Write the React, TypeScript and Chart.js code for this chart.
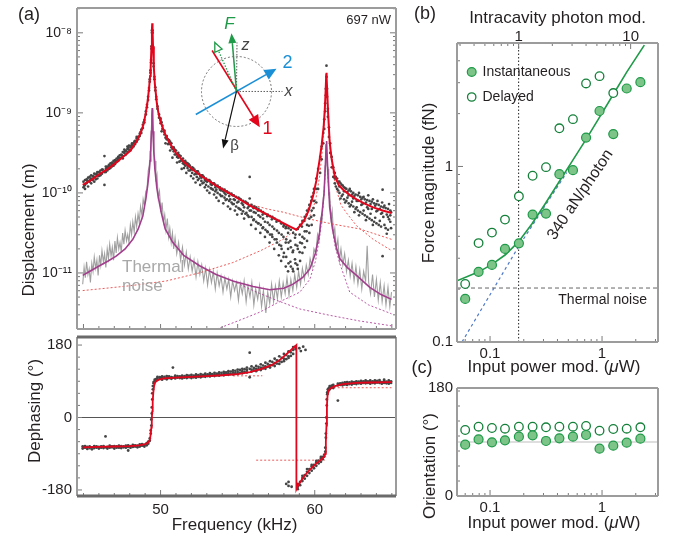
import React, { useEffect, useRef } from "react";
import { Chart, registerables } from "chart.js";
Chart.register(...registerables);

const FONT = '"Liberation Sans", Arial, Helvetica, sans-serif';
Chart.defaults.font.family = FONT;
Chart.defaults.color = "#231f20";

// ================= Panel (a) top : displacement (log10 of metres) =================
const freqRange = [44.58, 65.27]; // kHz
const dispLogRange = [-11.7, -7.69];
const dispTickValues = [1e-11, 1e-10, 1e-9, 1e-8];

const dispTotalFit = [
  [44.95, -9.9], [45.5, -9.84], [46.0, -9.77], [46.5, -9.71], [47.0, -9.64], [47.5, -9.56], [48.0, -9.48],
  [48.4, -9.37], [48.7, -9.26], [48.9, -9.14], [49.05, -8.99], [49.17, -8.84], [49.26, -8.68], [49.32, -8.54],
  [49.36, -8.42], [49.41, -8.17], [49.44, -7.96], [49.46, -7.88], [49.48, -7.96], [49.51, -8.17], [49.56, -8.42],
  [49.63, -8.64], [49.76, -8.88], [49.85, -8.99], [50.0, -9.11], [50.26, -9.25], [50.6, -9.38], [51.0, -9.5],
  [51.5, -9.61], [52.1, -9.71], [52.8, -9.81], [53.6, -9.91], [54.6, -10.02], [55.8, -10.16], [57.0, -10.28],
  [57.9, -10.37], [58.5, -10.43], [58.81, -10.46], [59.1, -10.4], [59.35, -10.33], [59.6, -10.22], [59.89, -10.04],
  [60.1, -9.85], [60.32, -9.58], [60.45, -9.4], [60.58, -9.17], [60.66, -8.93], [60.71, -8.71], [60.74, -8.55],
  [60.76, -8.5], [60.78, -8.56], [60.81, -8.74], [60.86, -8.98], [60.97, -9.37], [61.1, -9.58], [61.3, -9.79],
  [61.55, -9.9], [61.84, -9.96], [62.3, -10.03], [62.71, -10.08], [63.2, -10.13], [63.79, -10.18], [64.4, -10.22],
  [64.98, -10.25],
];
const dispMode1Tail = [
  [55.8, -10.14], [56.9, -10.2], [57.94, -10.24], [59.5, -10.32], [61.19, -10.39], [62.92, -10.45], [64.98, -10.58],
];
const dispMode2Fit = [
  [44.95, -11.22], [46.5, -11.19], [48.0, -11.16], [50.37, -11.1], [52.5, -11.0], [54.69, -10.87], [56.5, -10.72],
  [57.94, -10.58], [59.0, -10.43], [59.68, -10.29], [60.05, -10.1], [60.32, -9.79], [60.5, -9.45], [60.65, -9.0],
  [60.76, -8.6], [60.87, -9.0], [61.0, -9.45], [61.2, -9.75], [61.41, -9.96], [61.7, -10.15], [62.06, -10.25],
  [62.71, -10.41], [63.79, -10.58], [64.98, -10.72],
];
const thermalFit = [
  [44.95, -11.03], [45.5, -10.97], [46.04, -10.91], [46.6, -10.85], [47.12, -10.79], [47.7, -10.7], [48.2, -10.58],
  [48.55, -10.45], [48.85, -10.29], [49.05, -10.07], [49.17, -9.9], [49.26, -9.74], [49.32, -9.6], [49.36, -9.48],
  [49.41, -9.23], [49.44, -9.02], [49.46, -8.94], [49.48, -9.02], [49.51, -9.23], [49.56, -9.48], [49.63, -9.7],
  [49.76, -9.94], [49.85, -10.05], [50.05, -10.25], [50.3, -10.45], [50.8, -10.62], [51.5, -10.78], [52.53, -10.91],
  [53.6, -11.02], [54.69, -11.1], [56.0, -11.17], [57.08, -11.21], [58.0, -11.19], [58.59, -11.14], [59.2, -11.06],
  [59.68, -10.95], [60.05, -10.75], [60.32, -10.49], [60.5, -10.2], [60.6, -10.02], [60.66, -9.78], [60.71, -9.56],
  [60.74, -9.4], [60.76, -9.35], [60.78, -9.4], [60.81, -9.56], [60.86, -9.78], [60.97, -10.18], [61.15, -10.45],
  [61.4, -10.68], [61.62, -10.82], [62.1, -10.93], [62.71, -11.03], [63.57, -11.18], [64.3, -11.27], [64.98, -11.33],
];
const thermalMode1Tail = [
  [54.7, -11.1], [56.0, -11.22], [57.5, -11.34], [59.03, -11.45], [61.0, -11.53], [62.92, -11.6], [64.98, -11.66],
];
const thermalMode2 = [
  [53.4, -11.72], [55.0, -11.6], [56.43, -11.49], [57.5, -11.38], [59.03, -11.24], [59.68, -11.08], [60.05, -10.85],
  [60.32, -10.55], [60.5, -10.25], [60.62, -9.95], [60.7, -9.65], [60.76, -9.42], [60.82, -9.65], [60.9, -9.95],
  [61.05, -10.3], [61.3, -10.65], [61.62, -10.88], [62.27, -11.24], [63.5, -11.4], [64.98, -11.51],
];
const thermalNoise = [
  [44.95, -11.14], [45.04, -10.93], [45.12, -11.06], [45.2, -10.86], [45.29, -11.02], [45.37, -10.95], [45.45, -11.12],
  [45.54, -10.88], [45.62, -10.98], [45.7, -10.8], [45.79, -10.94], [45.87, -10.84], [45.95, -11.03], [46.04, -10.78],
  [46.12, -10.9], [46.2, -10.72], [46.29, -10.86], [46.37, -10.76], [46.45, -10.93], [46.54, -10.7], [46.62, -10.82],
  [46.7, -10.64], [46.79, -10.79], [46.87, -10.68], [46.95, -10.84], [47.04, -10.6], [47.12, -10.75], [47.2, -10.56],
  [47.29, -10.7], [47.37, -10.62], [47.45, -10.74], [47.54, -10.5], [47.62, -10.64], [47.7, -10.47], [47.79, -10.6],
  [47.87, -10.52], [47.95, -10.62], [48.04, -10.4], [48.12, -10.52], [48.2, -10.36], [48.29, -10.49], [48.37, -10.3],
  [48.45, -10.42], [48.54, -10.26], [48.62, -10.37], [48.7, -10.17], [48.79, -10.28], [48.87, -10.08], [48.95, -10.16],
  [49.04, -9.98], [49.12, -9.95], [49.2, -9.72], [49.27, -9.66], [49.32, -9.48], [49.37, -9.35], [49.42, -9.12],
  [49.46, -8.96], [49.5, -9.15], [49.54, -9.36], [49.59, -9.52], [49.64, -9.6], [49.7, -9.86], [49.77, -9.78],
  [49.85, -10.06], [49.93, -9.98], [50.02, -10.24], [50.1, -10.12], [50.19, -10.36], [50.27, -10.27], [50.35, -10.46],
  [50.44, -10.32], [50.52, -10.55], [50.6, -10.44], [50.69, -10.62], [50.77, -10.5], [50.85, -10.7], [50.94, -10.56],
  [51.05, -10.76], [51.17, -10.62], [51.3, -10.84], [51.42, -10.68], [51.55, -10.9], [51.67, -10.74], [51.8, -10.95],
  [51.92, -10.8], [52.05, -10.98], [52.17, -10.84], [52.3, -11.05], [52.42, -10.86], [52.55, -11.02], [52.67, -10.9],
  [52.8, -11.1], [52.92, -10.94], [53.05, -11.15], [53.17, -10.96], [53.3, -11.12], [53.42, -10.98], [53.55, -11.2],
  [53.67, -11.0], [53.8, -11.16], [53.92, -11.04], [54.05, -11.24], [54.17, -11.06], [54.3, -11.2], [54.42, -11.08],
  [54.55, -11.3], [54.67, -11.1], [54.8, -11.22], [54.92, -11.12], [55.05, -11.34], [55.17, -11.13], [55.3, -11.26],
  [55.42, -11.1], [55.55, -11.36], [55.67, -11.16], [55.8, -11.3], [55.92, -11.12], [56.05, -11.4], [56.17, -11.2],
  [56.3, -11.33], [56.42, -11.16], [56.55, -11.42], [56.67, -11.22], [56.83, -11.5], [56.95, -11.24], [57.08, -11.38],
  [57.2, -11.14], [57.33, -11.36], [57.45, -11.16], [57.58, -11.32], [57.7, -11.1], [57.83, -11.3], [57.95, -11.12],
  [58.08, -11.26], [58.2, -11.06], [58.33, -11.28], [58.45, -11.08], [58.58, -11.22], [58.7, -11.02], [58.83, -11.18],
  [58.95, -10.98], [59.08, -11.14], [59.2, -10.94], [59.33, -11.08], [59.45, -10.9], [59.58, -11.02], [59.7, -10.82],
  [59.83, -10.92], [59.95, -10.7], [60.07, -10.76], [60.18, -10.52], [60.28, -10.6], [60.38, -10.32], [60.47, -10.36],
  [60.55, -10.06], [60.62, -9.98], [60.67, -9.66], [60.71, -9.5], [60.74, -9.4], [60.76, -9.36], [60.79, -9.52],
  [60.82, -9.72], [60.86, -9.7], [60.91, -10.02], [60.97, -10.0], [61.05, -10.32], [61.13, -10.22], [61.22, -10.52],
  [61.3, -10.44], [61.4, -10.7], [61.5, -10.58], [61.6, -10.84], [61.7, -10.7], [61.82, -10.9], [61.94, -10.76],
  [62.06, -10.98], [62.18, -10.84], [62.3, -11.04], [62.42, -10.88], [62.55, -11.1], [62.67, -10.92], [62.8, -11.14],
  [62.92, -10.96], [63.05, -11.2], [63.17, -10.98], [63.3, -11.1], [63.4, -10.66], [63.5, -11.12], [63.62, -11.26],
  [63.75, -11.02], [63.87, -11.3], [64.0, -11.08], [64.12, -11.34], [64.25, -11.12], [64.37, -11.36], [64.5, -11.16],
  [64.62, -11.4], [64.75, -11.18], [64.87, -11.42], [64.98, -11.24],
];
// measured displacement points: [frequency, log10 values...]
const dispDots = [
  [45.0, -9.86, -9.93], [45.1, -9.9, -9.84, -9.95], [45.2, -9.88, -9.83], [45.3, -9.85, -9.92, -9.81], [45.4, -9.86, -9.8],
  [45.5, -9.82, -9.88, -9.78], [45.6, -9.84, -9.79], [45.7, -9.8, -9.86, -9.76], [45.8, -9.83, -9.77], [45.9, -9.78, -9.82, -9.74],
  [46.0, -9.79, -9.74], [46.1, -9.72, -9.78, -9.75], [46.2, -9.76, -9.71], [46.36, -9.54, -9.74, -9.9], [46.45, -9.7, -9.74, -9.67],
  [46.55, -9.72, -9.67], [46.65, -9.65, -9.7, -9.68], [46.75, -9.69, -9.63], [46.85, -9.62, -9.67, -9.65], [46.95, -9.66, -9.6],
  [47.05, -9.59, -9.64, -9.62], [47.15, -9.61, -9.57], [47.25, -9.55, -9.6, -9.58], [47.35, -9.57, -9.53], [47.45, -9.52, -9.56],
  [47.55, -9.54, -9.49, -9.57], [47.65, -9.5, -9.46], [47.75, -9.47, -9.52], [47.85, -9.45, -9.49, -9.42], [47.95, -9.46, -9.41],
  [48.05, -9.43, -9.47], [48.15, -9.4, -9.44, -9.38], [48.25, -9.38, -9.42], [48.35, -9.35, -9.39], [48.45, -9.32, -9.36, -9.3],
  [48.55, -9.3, -9.33], [48.65, -9.26, -9.29], [48.75, -9.21, -9.25], [48.85, -9.15, -9.19], [48.95, -9.09, -9.12],
  [49.05, -8.98, -9.02], [49.12, -8.9, -8.93], [49.19, -8.8, -8.84], [49.25, -8.69, -8.72], [49.3, -8.58, -8.61],
  [49.34, -8.47, -8.5], [49.38, -8.34, -8.37], [49.41, -8.17, -8.2], [49.44, -7.97, -8.0], [49.48, -7.97, -8.0],
  [49.51, -8.17, -8.2], [49.55, -8.38, -8.42], [49.6, -8.55, -8.58], [49.66, -8.68, -8.72], [49.72, -8.8, -8.83],
  [49.8, -8.92, -8.95], [49.9, -9.02, -9.06], [50.0, -9.09, -9.13, -9.07], [50.12, -9.16, -9.2], [50.25, -9.22, -9.27, -9.24],
  [50.4, -9.29, -9.33], [50.55, -9.34, -9.39, -9.36], [50.7, -9.38, -9.43], [50.85, -9.43, -9.48, -9.45], [51.0, -9.47, -9.52],
  [51.15, -9.5, -9.56, -9.53], [51.3, -9.54, -9.6], [51.45, -9.57, -9.63, -9.6], [51.6, -9.6, -9.66], [51.75, -9.63, -9.69, -9.66],
  [51.9, -9.66, -9.72], [52.05, -9.68, -9.75, -9.71], [52.2, -9.71, -9.77], [52.35, -9.73, -9.8, -9.76], [52.5, -9.76, -9.82],
  [52.65, -9.78, -9.85, -9.81], [52.8, -9.8, -9.87], [52.95, -9.82, -9.9, -9.85], [53.1, -9.84, -9.92], [53.25, -9.86, -9.94, -9.89],
  [53.4, -9.88, -9.96], [53.55, -9.9, -9.98, -9.93], [53.7, -9.91, -10.0], [53.85, -9.93, -10.02, -9.96], [54.0, -9.95, -10.04],
  [54.15, -9.96, -10.06, -10.0], [54.3, -9.98, -10.08], [54.45, -10.0, -10.1, -10.04], [54.6, -10.01, -10.12], [54.75, -10.03, -10.14, -10.08],
  [54.9, -10.05, -10.17], [55.05, -10.06, -10.19, -10.11], [55.2, -10.08, -10.21], [55.35, -10.1, -10.23, -10.15], [55.5, -10.11, -10.26],
  [55.65, -10.13, -10.28, -10.19], [55.78, -9.8, -10.07, -10.22], [55.9, -10.15, -10.3], [56.05, -10.17, -10.33, -10.24], [56.2, -10.18, -10.36],
  [56.35, -10.2, -10.38, -10.28], [56.5, -10.22, -10.4], [56.65, -10.24, -10.43, -10.32], [56.8, -10.26, -10.46], [56.95, -10.27, -10.49, -10.37],
  [57.1, -10.29, -10.52], [57.25, -10.3, -10.55, -10.42], [57.4, -10.32, -10.58], [57.55, -10.34, -10.62, -10.47], [57.7, -10.35, -10.65],
  [57.85, -10.38, -10.7, -10.52], [58.0, -10.4, -10.75], [58.15, -10.42, -10.8, -10.58], [58.3, -10.44, -10.88, -10.62], [58.45, -10.46, -10.92, -10.68],
  [58.6, -10.5, -10.98, -10.72], [58.75, -10.52, -10.88, -10.65], [58.9, -10.45, -10.95, -10.7], [59.05, -10.4, -10.85, -10.62], [59.2, -10.35, -10.75, -10.55],
  [59.35, -10.3, -10.68, -10.48], [59.5, -10.22, -10.6, -10.4], [59.65, -10.15, -10.5, -10.32], [59.8, -10.05, -10.4, -10.22], [59.95, -9.95, -10.28, -10.1],
  [60.1, -9.82, -10.12, -9.95], [60.22, -9.7, -9.95], [60.35, -9.55, -9.75], [60.45, -9.42, -9.58], [60.55, -9.25, -9.38],
  [60.62, -9.08, -9.2], [60.68, -8.88, -8.98], [60.72, -8.7, -8.78], [60.76, -8.41, -8.55], [60.8, -8.7, -8.8],
  [60.85, -8.95, -9.05], [60.92, -9.18, -9.3], [61.0, -9.38, -9.5], [61.1, -9.55, -9.68], [61.2, -9.68, -9.8],
  [61.3, -9.75, -9.88, -9.82], [61.45, -9.82, -9.95], [61.6, -9.86, -10.0, -9.92], [61.75, -9.9, -10.04], [61.9, -9.93, -10.08, -9.98],
  [62.05, -9.95, -10.1], [62.2, -9.97, -10.13, -10.03], [62.35, -9.98, -10.15], [62.5, -10.0, -10.17, -10.07], [62.65, -10.02, -10.2],
  [62.8, -10.03, -10.22, -10.1], [62.95, -10.05, -10.24], [63.1, -10.06, -10.26, -10.14], [63.25, -10.08, -10.28], [63.4, -10.09, -10.3, -10.18],
  [63.55, -10.1, -10.32], [63.7, -10.11, -10.34, -10.2], [63.85, -10.13, -10.36], [64.0, -10.14, -10.38, -10.23], [64.15, -10.15, -10.4],
  [64.3, -10.17, -10.42, -10.26], [64.4, -9.96, -10.79], [64.45, -10.18, -10.3], [64.6, -10.19, -10.44], [64.75, -10.2, -10.46, -10.3],
  [64.9, -10.22, -10.36, -10.28],
];
const dispDotsInterleaved = [
  [45.05, -9.91], [45.25, -9.85], [45.45, -9.83], [45.65, -9.8], [45.85, -9.76], [46.05, -9.75], [46.25, -9.71], [46.5, -9.69],
  [46.7, -9.66], [46.9, -9.63], [47.1, -9.6], [47.3, -9.56], [47.5, -9.53], [47.7, -9.48], [47.9, -9.44], [48.1, -9.41],
  [48.3, -9.36], [48.5, -9.31], [48.7, -9.24], [48.9, -9.12],
  [50.07, -9.12, -9.23], [50.32, -9.31, -9.38], [50.47, -9.33, -9.39], [50.62, -9.47, -9.36], [50.77, -9.45, -9.56], [50.92, -9.46, -9.52],
  [51.07, -9.62, -9.55], [51.22, -9.61, -9.53], [51.37, -9.7, -9.59], [51.52, -9.64, -9.69], [51.67, -9.62, -9.75], [51.82, -9.72, -9.64],
  [51.97, -9.79, -9.7], [52.12, -9.69, -9.82], [52.27, -9.76, -9.87], [52.42, -9.84, -9.73], [52.57, -9.9, -9.79], [52.72, -9.78, -9.88],
  [52.87, -9.93, -9.84], [53.02, -9.86, -9.97], [53.17, -9.84, -10.0], [53.32, -9.95, -9.9], [53.47, -10.02, -9.88], [53.62, -9.96, -10.06],
  [53.77, -9.93, -10.1], [53.92, -10.04, -9.97], [54.07, -10.13, -9.98], [54.22, -10.02, -10.09], [54.37, -10.17, -10.0], [54.52, -10.08, -10.2],
  [54.67, -10.03, -10.14], [54.82, -10.22, -10.09], [54.97, -10.12, -10.27], [55.12, -10.07, -10.2], [55.27, -10.26, -10.13], [55.42, -10.18, -10.32],
  [55.57, -10.12, -10.25], [55.72, -10.3, -10.17], [55.87, -10.22, -10.4], [56.02, -10.19, -10.34], [56.17, -10.45, -10.25], [56.32, -10.22, -10.38],
  [56.47, -10.5, -10.3], [56.62, -10.27, -10.44], [56.77, -10.55, -10.36], [56.92, -10.29, -10.48], [57.07, -10.62, -10.4], [57.22, -10.33, -10.52],
  [57.37, -10.7, -10.45], [57.52, -10.36, -10.58], [57.67, -10.78, -10.5], [57.82, -10.38, -10.66, -10.85], [57.97, -10.55, -10.8, -10.42],
  [58.12, -10.92, -10.62, -10.44], [58.27, -10.7, -10.98, -10.5], [58.42, -10.6, -10.86], [58.57, -10.74, -10.95], [58.72, -10.56, -10.83],
  [58.87, -10.66, -10.9], [59.02, -10.52, -10.74], [59.17, -10.63, -10.42], [59.32, -10.35, -10.57], [59.47, -10.48, -10.27], [59.62, -10.2, -10.41],
  [59.77, -10.3, -10.1], [59.92, -10.0, -10.19],
  [61.37, -9.8, -9.92], [61.52, -9.97, -9.86], [61.67, -9.88, -10.07], [61.82, -10.02, -9.91], [61.97, -9.94, -10.12], [62.12, -10.06, -9.99],
  [62.27, -9.95, -10.17], [62.42, -10.11, -10.02], [62.57, -10.24, -10.04], [62.72, -10.1, -10.18], [62.87, -10.0, -10.28], [63.02, -10.15, -10.08],
  [63.17, -10.22, -10.05], [63.32, -10.12, -10.34], [63.47, -10.03, -10.2], [63.62, -10.26, -10.14], [63.77, -10.08, -10.4], [63.92, -10.31, -10.16],
  [64.07, -10.1, -10.22], [64.22, -10.35, -10.2], [64.37, -10.25, -10.12], [64.52, -10.4, -10.16], [64.67, -10.27, -10.51], [64.82, -10.14, -10.33],
  [64.95, -10.24, -10.44],
];

// ================= Panel (a) bottom : dephasing (degrees) =================
const phaseRange = [-195, 200];
const phaseTickValues = [-180, 0, 180];
const freqTickValues = [50, 60];
const phaseFit = [
  [44.95, -74], [46, -73], [47, -72], [48, -71], [48.6, -69], [49.0, -66], [49.2, -62], [49.3, -56], [49.36, -42],
  [49.4, -25], [49.43, -5], [49.46, 15], [49.49, 40], [49.53, 62], [49.58, 78], [49.65, 87], [49.8, 93], [50.2, 97],
  [51, 99], [52, 101], [53, 103], [54, 105], [55, 108], [55.8, 113], [56.5, 120], [57.2, 130], [57.8, 145], [58.3, 162],
  [58.81, 180], [58.81, -178], [58.9, -170], [59.2, -152], [59.46, -139], [59.8, -125], [60.11, -114], [60.4, -105],
  [60.6, -98], [60.68, -90], [60.72, -60], [60.76, -20], [60.79, 30], [60.83, 55], [60.9, 66], [60.97, 71], [61.3, 78],
  [61.84, 83], [62.7, 86], [63.57, 87], [64.98, 88],
];
const phaseMode1Ref = [[54.7, 103.5], [56.6, 103.5]];
const phaseMode2Ref = [[56.2, -106], [60.65, -106]];
const phaseMode2bRef = [[60.97, 74], [64.98, 74]];
const phaseDots = [
  [44.95, -72, -77], [45.1, -75, -71], [45.25, -78, -73], [45.4, -72, -76], [45.55, -74, -79], [45.7, -71, -76], [45.85, -75, -72],
  [46.0, -77, -73], [46.15, -72, -75], [46.3, -76, -71], [46.43, -47, -74], [46.55, -73, -77], [46.7, -70, -75], [46.85, -74, -72],
  [47.0, -77, -71], [47.15, -72, -75], [47.3, -75, -70], [47.45, -71, -76], [47.6, -74, -72], [47.75, -70, -75], [47.9, -73, -69, -82],
  [48.05, -71, -75], [48.2, -68, -73], [48.35, -72, -69], [48.5, -70, -74], [48.65, -67, -72], [48.8, -70, -66], [48.95, -68, -72],
  [49.1, -64, -69], [49.2, -60, -65], [49.3, -52, -58], [49.36, -40, -32], [49.4, -20, -5], [49.43, 10, 25], [49.46, 45, 60],
  [49.5, 70, 78], [49.55, 85, 88], [49.62, 90, 94], [49.7, 95, 92], [49.8, 93, 98, 101], [49.95, 96, 100], [50.1, 98, 94, 102],
  [50.25, 97, 101], [50.4, 99, 95, 103], [50.55, 98, 102], [50.7, 100, 96], [50.8, 124, 99], [50.95, 101, 97, 104], [51.1, 99, 103],
  [51.25, 102, 98], [51.4, 100, 104, 97], [51.55, 103, 99], [51.7, 101, 105, 98], [51.85, 104, 100], [52.0, 102, 98, 106],
  [52.15, 100, 104], [52.3, 103, 107, 99], [52.45, 101, 105], [52.6, 104, 100, 108], [52.75, 102, 106], [52.9, 105, 101, 109],
  [53.05, 103, 107], [53.2, 106, 102, 110], [53.35, 104, 108], [53.5, 107, 103, 111], [53.65, 105, 109], [53.8, 108, 104, 112],
  [53.95, 106, 111], [54.1, 109, 105, 113], [54.25, 107, 112], [54.4, 110, 106, 115], [54.55, 108, 114], [54.7, 112, 107, 117],
  [54.85, 110, 116], [55.0, 113, 108, 119], [55.15, 111, 118], [55.3, 115, 110, 121], [55.45, 113, 120], [55.6, 118, 112, 124],
  [55.78, 161, 100, 121], [55.9, 119, 114, 127], [56.05, 123, 117], [56.2, 121, 128, 115], [56.35, 126, 120], [56.5, 124, 132, 118],
  [56.65, 129, 122], [56.8, 127, 136, 121], [56.95, 133, 126], [57.1, 130, 140, 124], [57.25, 138, 130], [57.4, 135, 146, 128],
  [57.55, 142, 134], [57.7, 140, 152, 133], [57.85, 148, 138], [58.0, 146, 158, 140], [58.15, 155, 145, -165], [58.3, 152, 164, 148, -170, -160],
  [58.45, 162, 153], [58.5, -172], [58.6, 168, 158, 175], [58.75, 176, 170], [59.0, 172], [59.1, 165], [59.25, 176], [59.4, 168],
  [58.9, -172, -165, -178], [59.05, -160, -168], [59.2, -150, -158, -145], [59.35, -143, -152], [59.5, -135, -145, -128],
  [59.65, -128, -138], [59.8, -122, -132, -118], [59.95, -118, -126], [60.1, -112, -120, -108], [60.25, -107, -114],
  [60.4, -102, -110, -98], [60.52, -98, -104], [60.62, -92, -97], [60.68, -75, -85], [60.72, -50, -40], [60.75, -15, 0],
  [60.78, 30, 45], [60.81, 58, 62], [60.85, 64, 70], [60.9, 68, 72], [60.97, 70, 75, 78], [61.1, 74, 79], [61.2, 76, 81, 73],
  [61.5, 42, 80, 84], [61.65, 81, 85], [61.8, 80, 84, 86], [61.95, 82, 87], [62.1, 81, 85, 88], [62.25, 83, 87], [62.4, 82, 86, 89],
  [62.55, 84, 88], [62.7, 83, 87, 90], [62.85, 85, 89], [63.0, 84, 88, 91], [63.15, 86, 90], [63.3, 85, 89, 92], [63.45, 86, 90],
  [63.6, 84, 88, 92], [63.75, 86, 90], [63.9, 85, 89, 92], [64.05, 87, 91], [64.2, 86, 90, 93], [64.35, 84, 88], [64.5, 86, 91, 94],
  [64.65, 85, 89], [64.8, 87, 92, 84], [64.95, 86, 90],
];

// ================= Panel (b) : force magnitude =================
const powerRange = [0.0507, 3.16]; // µW
const forceRange = [0.1, 5.05]; // fN
const powerTickValues = [0.1, 1];
const photonTickValues = [1, 10];
const forceTickValues = [0.1, 1];
const powerPerPhoton = 0.18; // µW per intracavity photon modulation
const inputPower = [0.06, 0.079, 0.104, 0.136, 0.181, 0.24, 0.316, 0.416, 0.55, 0.72, 0.95, 1.26, 1.66, 2.2];
const forceInstantaneous = [0.176, 0.251, 0.275, 0.339, 0.365, 0.532, 0.539, 0.904, 0.953, 1.46, 2.07, 1.53, 2.78, 3.02];
const forceDelayed = [0.214, 0.366, 0.42, 0.498, 0.676, 0.885, 0.991, 1.65, 1.86, 2.97, 3.27, 2.62, null, null];
const fitPower = [0.0507, 0.0793, 0.104, 0.137, 0.18, 0.237, 0.312, 0.41, 0.54, 0.72, 0.96, 1.262, 1.661, 2.386];
const fitForce = [0.223, 0.251, 0.277, 0.314, 0.373, 0.472, 0.615, 0.81, 1.068, 1.427, 1.931, 2.578, 3.445, 4.913];
const linearPower = [0.0562, 0.18, 0.484];
const linearForce = [0.1, 0.35, 0.924];
const thermalForce = 0.203;

// ================= Panel (c) : orientation =================
const orientRange = [0, 180];
const orientTickValues = [0, 180];
const orientInstantaneous = [85.5, 94.5, 89.5, 92.8, 98.8, 101.2, 91.7, 96.2, 98.8, 101.7, 78.8, 83.8, 88.8, 95.5];
const orientDelayed = [110, 115.5, 113.3, 112.2, 115.5, 115.5, 114.5, 115.5, 115.5, 116.7, 108.8, 111.7, 112.2, 114.5];
const orientReference = 90;

// ================= colours =================
const RED = "#e3051b";
const RED_LIGHT = "rgba(236,60,60,0.85)";
const PURPLE = "#a23f8d";
const PURPLE_LIGHT = "rgba(178,70,155,0.9)";
const NOISE = "#a0a0a0";
const DOT = "#454545";
const GREEN = "#1e9a48";
const GREEN_FILL = "#7cc488";
const GREEN_DARK = "#15803a";
const BLUE = "#4f79c6";
const FRAME = "#9c9c9c";
const TICK = "#7a7a7a";

// ================= helpers =================
const curve = (pts, color, width, dash, order, logY = false) => ({
  data: pts.map(([x, y]) => ({ x, y: logY ? Math.pow(10, y) : y })),
  showLine: true, borderColor: color, borderWidth: width, borderDash: dash,
  pointRadius: 0, fill: false, tension: 0, order,
});
const dots = (cols, logY, order, r = 1.35) => ({
  data: cols.flatMap(([x, ...ys]) => ys.map((y) => ({ x, y: logY ? Math.pow(10, y) : y }))),
  pointRadius: r, pointBackgroundColor: DOT, pointBorderWidth: 0, showLine: false, order,
});

const SUP = { "-": "\u207B", "0": "\u2070", "1": "\u00B9", "2": "\u00B2", "3": "\u00B3", "4": "\u2074", "5": "\u2075", "6": "\u2076", "7": "\u2077", "8": "\u2078", "9": "\u2079" };
const decade = (v) => Math.round(Math.log10(v));
const powLabel = (v) => "10" + String(decade(v)).split("").map((c) => SUP[c]).join("");
const plainPowLabel = (v) => { const r = decade(v); return r >= 0 ? String(Math.pow(10, r)) : "0." + "0".repeat(-r - 1) + "1"; };
const fixedTicks = (values) => (s) => { s.ticks = values.map((value) => ({ value })); };

function tickValues(min, max, t) {
  const out = [];
  if (t.kind === "log") {
    for (let e = Math.floor(Math.log10(min)); e <= Math.ceil(Math.log10(max)); e++) {
      for (let k = 1; k < 10; k++) {
        const v = k * Math.pow(10, e);
        if (v >= min * 0.999 && v <= max * 1.001) out.push({ v, major: k === 1 });
      }
    }
  } else {
    const s = t.step;
    for (let i = Math.ceil(min / s - 1e-9); i * s <= max + 1e-9; i++) {
      const v = i * s;
      out.push({ v, major: t.majorEvery ? Math.abs(v / t.majorEvery - Math.round(v / t.majorEvery)) < 1e-6 : false });
    }
  }
  return out;
}

function txt(ctx, s, x, y, o = {}) {
  ctx.save();
  ctx.translate(x, y);
  if (o.rotate) ctx.rotate(o.rotate);
  ctx.font = `${o.italic ? "italic " : ""}${o.size || 14}px ${FONT}`;
  ctx.fillStyle = o.color || "#231f20";
  ctx.textAlign = o.align || "center";
  ctx.textBaseline = o.baseline || "middle";
  ctx.fillText(s, 0, 0);
  ctx.restore();
}

function richCentered(ctx, parts, cx, cy, size) {
  const widths = parts.map(([s, it]) => { ctx.font = `${it ? "italic " : ""}${size}px ${FONT}`; return ctx.measureText(s).width; });
  let x = cx - widths.reduce((a, b) => a + b, 0) / 2;
  parts.forEach(([s, it], i) => { txt(ctx, s, x, cy, { size, italic: it, align: "left" }); x += widths[i]; });
}

function arrow(ctx, x0, y0, x1, y1, color, lw, headLen, headW, open = false, dash = []) {
  const ang = Math.atan2(y1 - y0, x1 - x0);
  const bx = x1 - headLen * Math.cos(ang), by = y1 - headLen * Math.sin(ang);
  ctx.save();
  ctx.strokeStyle = color; ctx.lineWidth = lw; ctx.setLineDash(dash);
  ctx.beginPath(); ctx.moveTo(x0, y0); ctx.lineTo(bx, by); ctx.stroke();
  ctx.setLineDash([]);
  const px = (-Math.sin(ang) * headW) / 2, py = (Math.cos(ang) * headW) / 2;
  ctx.beginPath(); ctx.moveTo(x1, y1); ctx.lineTo(bx + px, by + py); ctx.lineTo(bx - px, by - py); ctx.closePath();
  if (open) { ctx.fillStyle = "#fff"; ctx.fill(); ctx.lineWidth = 1.3; ctx.stroke(); } else { ctx.fillStyle = color; ctx.fill(); }
  ctx.restore();
}

function panelPlugin(id, frame, ticks, extra) {
  return {
    id,
    afterDatasetsDraw(chart) {
      const { ctx, chartArea: a } = chart;
      ctx.save();
      ctx.setLineDash([]);
      for (const t of ticks) {
        const s = chart.scales[t.scaleId];
        ctx.strokeStyle = TICK; ctx.lineWidth = 1;
        for (const { v, major } of tickValues(s.min, s.max, t)) {
          const len = major ? t.majorLen : t.minorLen;
          const p = s.getPixelForValue(v);
          ctx.beginPath();
          for (const side of t.sides) {
            if (side === "left") { ctx.moveTo(a.left, p); ctx.lineTo(a.left + len, p); }
            if (side === "right") { ctx.moveTo(a.right, p); ctx.lineTo(a.right - len, p); }
            if (side === "bottom") { ctx.moveTo(p, a.bottom); ctx.lineTo(p, a.bottom - len); }
            if (side === "top") { ctx.moveTo(p, a.top); ctx.lineTo(p, a.top + len); }
          }
          ctx.stroke();
        }
      }
      const sides = [
        ["left", a.left, a.top, a.left, a.bottom],
        ["right", a.right, a.top, a.right, a.bottom],
        ["top", a.left, a.top, a.right, a.top],
        ["bottom", a.left, a.bottom, a.right, a.bottom],
      ];
      for (const [name, x0, y0, x1, y1] of sides) {
        const f = (frame[name] || frame.all);
        ctx.strokeStyle = f.color; ctx.lineWidth = f.width;
        ctx.beginPath(); ctx.moveTo(x0, y0); ctx.lineTo(x1, y1); ctx.stroke();
      }
      ctx.restore();
      if (extra) extra(chart, ctx, a);
    },
  };
}

const baseOptions = (padding) => ({
  responsive: false, animation: false, devicePixelRatio: 1, events: [],
  layout: { padding },
  plugins: { legend: { display: false }, tooltip: { enabled: false } },
});

const axisCommon = (min, max, type) => ({
  type, min, max, ...(type === "logarithmic" ? { bounds: "data" } : {}),
  grid: { display: false, drawTicks: false }, border: { display: false },
});
const fixWidth = (w) => (s) => { s.width = w; s.paddingTop = 0; s.paddingBottom = 0; };
const fixHeight = (h) => (s) => { s.height = h; s.paddingLeft = 0; s.paddingRight = 0; };

// ================= chart configs =================
function configDisplacement() {
  const inset = (chart, ctx, a) => {
    const cx = a.left + 0.5 * a.width, cy = a.top + 0.26 * a.height;
    ctx.save();
    ctx.strokeStyle = "#555"; ctx.lineWidth = 0.8; ctx.setLineDash([2, 2]);
    ctx.beginPath(); ctx.arc(cx, cy, 35, 0, Math.PI * 2); ctx.stroke();
    ctx.setLineDash([1.5, 1.5]); ctx.strokeStyle = "#333";
    ctx.beginPath(); ctx.moveTo(cx, cy); ctx.lineTo(cx + 46, cy); ctx.moveTo(cx, cy); ctx.lineTo(cx + 0.5, cy - 49); ctx.stroke();
    ctx.restore();
    txt(ctx, "x", cx + 52, cy, { size: 16, italic: true, color: "#444" });
    txt(ctx, "z", cx + 9, cy - 46, { size: 16, italic: true, color: "#444" });
    arrow(ctx, cx - 40.7, cy + 23, cx + 40, cy - 22.7, "#1b8fd6", 1.6, 12, 11);
    txt(ctx, "2", cx + 51, cy - 28, { size: 18, color: "#1b8fd6" });
    arrow(ctx, cx - 24.4, cy - 41, cx + 23.3, cy + 35.7, RED, 1.6, 12, 11);
    txt(ctx, "1", cx + 31, cy + 38, { size: 18, color: RED });
    arrow(ctx, cx, cy, cx - 21.7, cy - 49, GREEN, 1.3, 9, 8, true, [1.5, 1.5]);
    arrow(ctx, cx, cy, cx - 5, cy - 58.3, GREEN, 1.5, 10, 8);
    txt(ctx, "F", cx - 7, cy - 67, { size: 17, italic: true, color: GREEN });
    arrow(ctx, cx, cy, cx - 13.4, cy + 57, "#111", 1.2, 9, 7);
    txt(ctx, "\u03B2", cx - 2, cy + 54, { size: 15, color: "#444" });
    txt(ctx, "697 nW", a.right - 5, a.top + 12, { size: 13, align: "right" });
    const xs = chart.scales.x, ys = chart.scales.y;
    txt(ctx, "Thermal", xs.getPixelForValue(47.5), ys.getPixelForValue(Math.pow(10, -10.93)), { size: 17, color: "#a8a8a8", align: "left" });
    txt(ctx, "noise", xs.getPixelForValue(47.5), ys.getPixelForValue(Math.pow(10, -11.17)), { size: 17, color: "#a8a8a8", align: "left" });
    txt(ctx, "(a)", 29, 15, { size: 18 });
    txt(ctx, "Displacement (m)", 29, 230, { size: 17, rotate: -Math.PI / 2 });
  };
  return {
    type: "scatter",
    data: {
      datasets: [
        curve(thermalNoise, NOISE, 1.1, [], 8, true),
        curve(thermalMode1Tail, PURPLE_LIGHT, 1, [2, 2], 7, true),
        curve(thermalMode2, PURPLE_LIGHT, 1, [2, 2], 7, true),
        curve(thermalFit, PURPLE, 1.6, [], 6, true),
        curve(dispMode1Tail, RED_LIGHT, 1, [2, 2], 5, true),
        curve(dispMode2Fit, RED_LIGHT, 1, [2, 2], 5, true),
        dots(dispDots, true, 3),
        dots(dispDotsInterleaved, true, 3),
        curve(dispTotalFit, RED, 2, [], 1, true),
      ],
    },
    options: {
      ...baseOptions({ left: 0, top: 8, right: 3, bottom: 3 }),
      scales: {
        x: { ...axisCommon(freqRange[0], freqRange[1], "linear"), display: false },
        y: {
          ...axisCommon(Math.pow(10, dispLogRange[0]), Math.pow(10, dispLogRange[1]), "logarithmic"),
          ticks: { autoSkip: false, padding: 5, font: { size: 14 }, callback: (v) => powLabel(v) },
          afterBuildTicks: fixedTicks(dispTickValues),
          afterFit: fixWidth(77),
        },
      },
    },
    plugins: [
      panelPlugin("frameA", { all: { color: FRAME, width: 2 } }, [
        { scaleId: "y", sides: ["left", "right"], kind: "log", majorLen: 6, minorLen: 3 },
        { scaleId: "x", sides: ["bottom"], kind: "lin", step: 1, majorEvery: 5, majorLen: 5, minorLen: 3 },
      ], inset),
    ],
  };
}

function configPhase() {
  const extra = (chart, ctx, a) => {
    txt(ctx, "Dephasing (\u00B0)", 35, 78, { size: 17, rotate: -Math.PI / 2 });
    txt(ctx, "Frequency (kHz)", (a.left + a.right) / 2 - 2, 192, { size: 17 });
  };
  const zeroLine = [[freqRange[0], 0], [freqRange[1], 0]];
  return {
    type: "scatter",
    data: {
      datasets: [
        curve(zeroLine, "#555", 1, [], 9),
        curve(phaseMode1Ref, RED_LIGHT, 1, [2, 2], 6),
        curve(phaseMode2Ref, RED_LIGHT, 1, [2, 2], 6),
        curve(phaseMode2bRef, RED_LIGHT, 1, [2, 2], 6),
        dots(phaseDots, false, 3, 1.4),
        curve(phaseFit, RED, 1.8, [], 1),
      ],
    },
    options: {
      ...baseOptions({ left: 0, top: 3, right: 3, bottom: 0 }),
      scales: {
        x: {
          ...axisCommon(freqRange[0], freqRange[1], "linear"),
          ticks: { autoSkip: false, maxRotation: 0, padding: 5, font: { size: 15 }, callback: (v) => String(v) },
          afterBuildTicks: fixedTicks(freqTickValues),
          afterFit: fixHeight(42),
        },
        y: {
          ...axisCommon(phaseRange[0], phaseRange[1], "linear"),
          ticks: { autoSkip: false, padding: 5, font: { size: 15 }, callback: (v) => String(v) },
          afterBuildTicks: fixedTicks(phaseTickValues),
          afterFit: fixWidth(77),
        },
      },
    },
    plugins: [
      panelPlugin("frameA2", {
        all: { color: FRAME, width: 2 },
        top: { color: "#6a6a6a", width: 3 },
        bottom: { color: "#6a6a6a", width: 3 },
      }, [
        { scaleId: "x", sides: ["bottom"], kind: "lin", step: 1, majorEvery: 10, majorLen: 6, minorLen: 3 },
        { scaleId: "y", sides: ["left"], kind: "lin", step: 30, majorEvery: 180, majorLen: 5, minorLen: 3 },
      ], extra),
    ],
  };
}

function configForce() {
  const extra = (chart, ctx, a) => {
    const xs = chart.scales.x, ys = chart.scales.y;
    const lx = a.left + 14.7;
    ctx.save();
    ctx.beginPath(); ctx.arc(lx, a.top + 29, 4.4, 0, Math.PI * 2);
    ctx.fillStyle = GREEN_FILL; ctx.fill(); ctx.strokeStyle = GREEN; ctx.lineWidth = 1.2; ctx.stroke();
    ctx.beginPath(); ctx.arc(lx, a.top + 54, 4.2, 0, Math.PI * 2);
    ctx.fillStyle = "#fff"; ctx.fill(); ctx.strokeStyle = GREEN_DARK; ctx.lineWidth = 1.3; ctx.stroke();
    ctx.restore();
    txt(ctx, "Instantaneous", a.left + 25.5, a.top + 29, { size: 14, align: "left" });
    txt(ctx, "Delayed", a.left + 25.5, a.top + 54, { size: 14, align: "left" });
    txt(ctx, "Thermal noise", a.right - 11, ys.getPixelForValue(thermalForce) + 12, { size: 14, align: "right" });
    txt(ctx, "340 aN/photon", xs.getPixelForValue(0.64), ys.getPixelForValue(0.69), { size: 16, rotate: -56 * Math.PI / 180 });
    txt(ctx, "(b)", 25, 14, { size: 18 });
    txt(ctx, "Intracavity photon mod.", (a.left + a.right) / 2, 18, { size: 17 });
    txt(ctx, "Force magnitude (fN)", 29.5, 183, { size: 17, rotate: -Math.PI / 2 });
    richCentered(ctx, [["Input power mod. (", false], ["\u03BC", true], ["W)", false]], 154, 367, 17);
  };
  const instPts = inputPower.map((p, i) => ({ x: p, y: forceInstantaneous[i] }));
  const delPts = inputPower.map((p, i) => ({ x: p, y: forceDelayed[i] })).filter((d) => d.y !== null);
  const fitPts = fitPower.map((p, i) => [p, fitForce[i]]);
  const linPts = linearPower.map((p, i) => [p, linearForce[i]]);
  return {
    type: "scatter",
    data: {
      datasets: [
        curve([[powerRange[0], thermalForce], [powerRange[1], thermalForce]], "#666", 1, [4, 3], 9),
        curve([[powerPerPhoton, forceRange[0]], [powerPerPhoton, forceRange[1]]], "#222", 1, [1.5, 2], 9),
        curve(linPts, BLUE, 1.2, [3, 3], 8),
        curve(fitPts, GREEN, 1.6, [], 7),
        { data: delPts, pointRadius: 4.3, pointBackgroundColor: "#fff", pointBorderColor: GREEN_DARK, pointBorderWidth: 1.3, order: 2 },
        { data: instPts, pointRadius: 4.5, pointBackgroundColor: GREEN_FILL, pointBorderColor: GREEN, pointBorderWidth: 1.2, order: 1 },
      ],
    },
    options: {
      ...baseOptions({ left: 0, top: 0, right: 20, bottom: 0 }),
      scales: {
        x: {
          ...axisCommon(powerRange[0], powerRange[1], "logarithmic"),
          ticks: { autoSkip: false, maxRotation: 0, padding: 3, font: { size: 15 }, callback: (v) => plainPowLabel(v) },
          afterBuildTicks: fixedTicks(powerTickValues),
          afterFit: fixHeight(38),
        },
        x2: {
          ...axisCommon(powerRange[0] / powerPerPhoton, powerRange[1] / powerPerPhoton, "logarithmic"),
          position: "top", axis: "x",
          ticks: { autoSkip: false, maxRotation: 0, padding: -3, font: { size: 15 }, callback: (v) => plainPowLabel(v) },
          afterBuildTicks: fixedTicks(photonTickValues),
          afterFit: fixHeight(43),
        },
        y: {
          ...axisCommon(forceRange[0], forceRange[1], "logarithmic"),
          ticks: { autoSkip: false, padding: 4, font: { size: 15 }, callback: (v) => plainPowLabel(v) },
          afterBuildTicks: fixedTicks(forceTickValues),
          afterFit: fixWidth(57),
        },
      },
    },
    plugins: [
      panelPlugin("frameB", { all: { color: FRAME, width: 2 } }, [
        { scaleId: "y", sides: ["left"], kind: "log", majorLen: 6, minorLen: 3 },
        { scaleId: "x", sides: ["bottom"], kind: "log", majorLen: 6, minorLen: 3 },
        { scaleId: "x2", sides: ["top"], kind: "log", majorLen: 6, minorLen: 3 },
      ], extra),
    ],
  };
}

function configOrientation() {
  const extra = (chart, ctx) => {
    txt(ctx, "(c)", 22, 13.5, { size: 18 });
    txt(ctx, "Orientation (\u00B0)", 30, 111, { size: 17, rotate: -Math.PI / 2 });
    richCentered(ctx, [["Input power mod. (", false], ["\u03BC", true], ["W)", false]], 154, 168, 17);
  };
  const instPts = inputPower.map((p, i) => ({ x: p, y: orientInstantaneous[i] }));
  const delPts = inputPower.map((p, i) => ({ x: p, y: orientDelayed[i] }));
  return {
    type: "scatter",
    data: {
      datasets: [
        curve([[powerRange[0], orientReference], [powerRange[1], orientReference]], "#bdbdbd", 1, [], 9),
        { data: delPts, pointRadius: 4.3, pointBackgroundColor: "#fff", pointBorderColor: GREEN_DARK, pointBorderWidth: 1.3, order: 2 },
        { data: instPts, pointRadius: 4.5, pointBackgroundColor: GREEN_FILL, pointBorderColor: GREEN, pointBorderWidth: 1.2, order: 1 },
      ],
    },
    options: {
      ...baseOptions({ left: 0, top: 33, right: 20, bottom: 0 }),
      scales: {
        x: {
          ...axisCommon(powerRange[0], powerRange[1], "logarithmic"),
          ticks: { autoSkip: false, maxRotation: 0, padding: 3, font: { size: 15 }, callback: (v) => plainPowLabel(v) },
          afterBuildTicks: fixedTicks(powerTickValues),
          afterFit: fixHeight(42),
        },
        y: {
          ...axisCommon(orientRange[0], orientRange[1], "linear"),
          ticks: { autoSkip: false, padding: 4, font: { size: 15 }, callback: (v) => String(v) },
          afterBuildTicks: fixedTicks(orientTickValues),
          afterFit: fixWidth(57),
        },
      },
    },
    plugins: [
      panelPlugin("frameC", { all: { color: FRAME, width: 2 } }, [
        { scaleId: "y", sides: ["left"], kind: "lin", step: 25, majorEvery: 1000, majorLen: 5, minorLen: 3 },
        { scaleId: "x", sides: ["bottom"], kind: "log", majorLen: 6, minorLen: 3 },
      ], extra),
    ],
  };
}

function ChartCanvas({ left, top, width, height, make }) {
  const ref = useRef(null);
  useEffect(() => {
    const chart = new Chart(ref.current, make());
    return () => chart.destroy();
  }, []);
  return (
    <canvas ref={ref} width={width} height={height}
      style={{ position: "absolute", left, top, width, height }} />
  );
}

export default function App() {
  return (
    <div style={{ position: "absolute", left: 0, top: 0, width: 678, height: 538, background: "#fff", overflow: "hidden" }}>
      <ChartCanvas left={0} top={0} width={400} height={333} make={configDisplacement} />
      <ChartCanvas left={0} top={333} width={400} height={205} make={configPhase} />
      <ChartCanvas left={400} top={0} width={278} height={380} make={configForce} />
      <ChartCanvas left={400} top={355} width={278} height={183} make={configOrientation} />
    </div>
  );
}
